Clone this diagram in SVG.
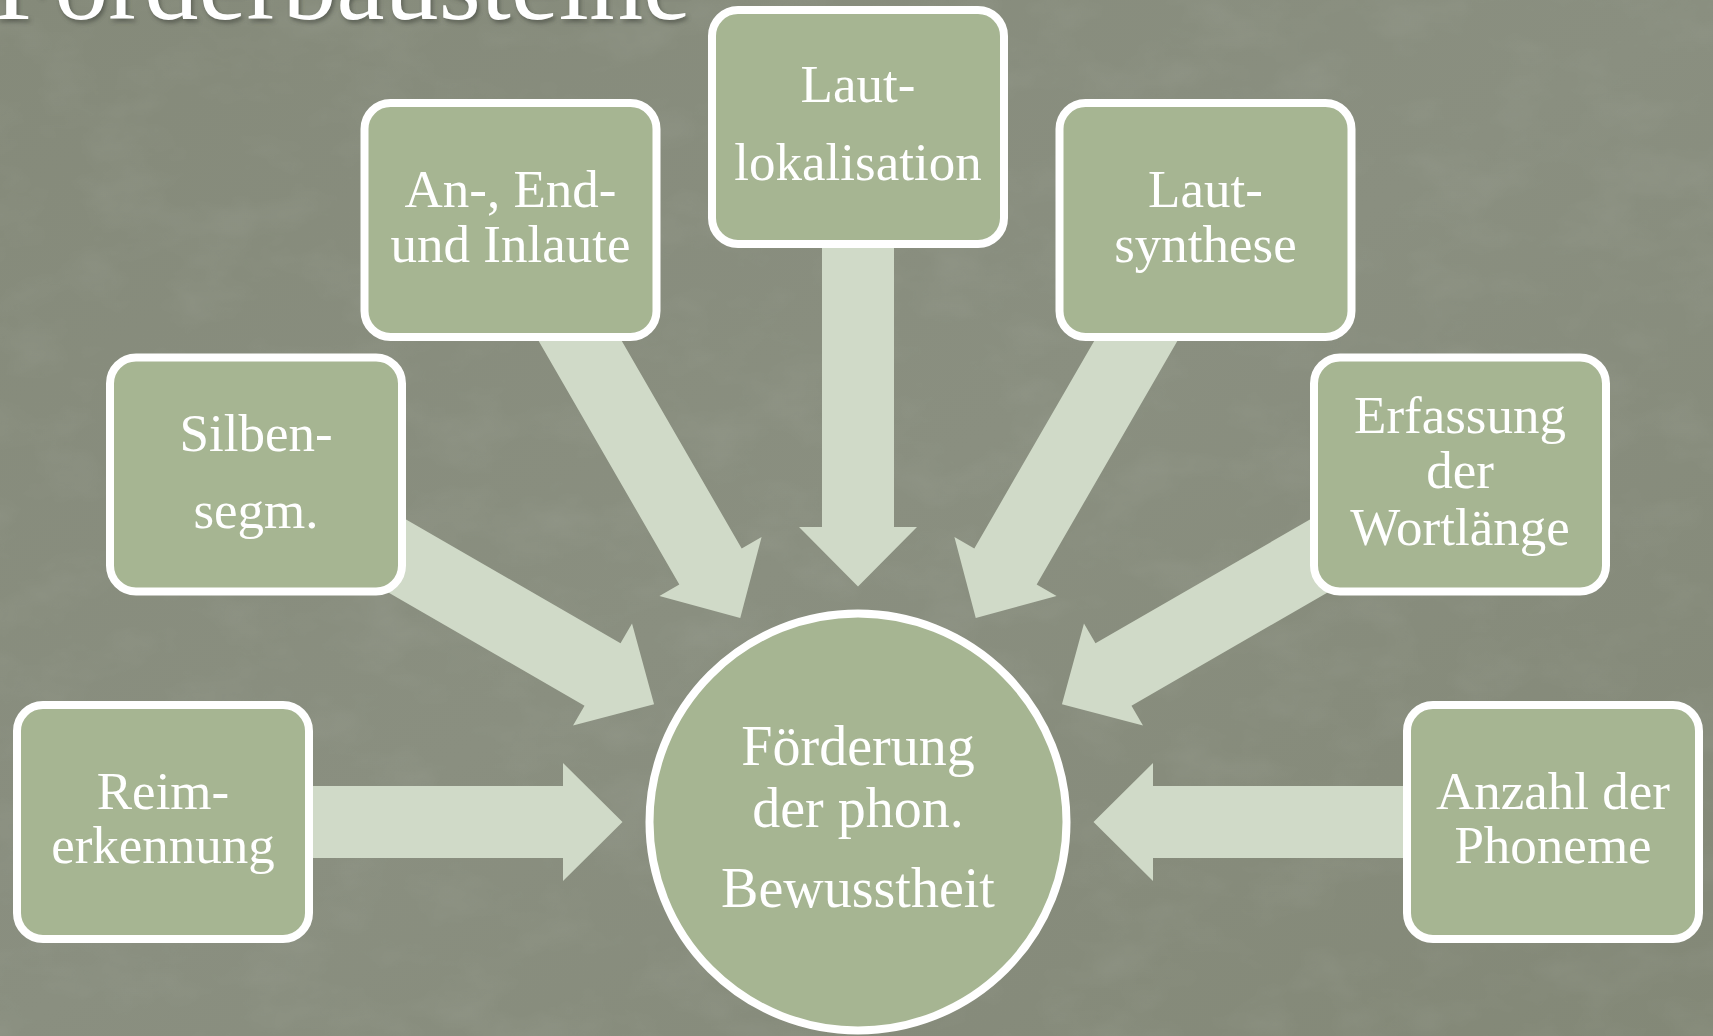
<svg xmlns="http://www.w3.org/2000/svg" width="1713" height="1036" viewBox="0 0 1713 1036">
  <defs>
    <linearGradient id="bg" x1="0" y1="0" x2="1" y2="1">
      <stop offset="0" stop-color="#858a7a"/>
      <stop offset="0.5" stop-color="#8a8f80"/>
      <stop offset="1" stop-color="#838877"/>
    </linearGradient>
    <filter id="grain" x="0" y="0" width="100%" height="100%">
      <feTurbulence type="fractalNoise" baseFrequency="0.012 0.02" numOctaves="4" seed="7" result="n"/>
      <feColorMatrix type="matrix" values="0 0 0 0 0.45  0 0 0 0 0.48  0 0 0 0 0.42  0 0 0 -1.6 0.9" result="m"/>
      <feComposite in="m" in2="SourceGraphic" operator="in"/>
    </filter>
    <filter id="tshadow" x="-5%" y="-50%" width="110%" height="200%">
      <feGaussianBlur stdDeviation="2"/>
    </filter>
    <polygon id="arrow" points="858,586.5 917,527 894,527 894,222 822,222 822,527 799,527"/>
  </defs>
  <style>
    .arr { fill: #d0dac8; }
    .box { fill: #a6b592; stroke: #ffffff; stroke-width: 8; }
    .lbl { font-family: "Liberation Serif", "DejaVu Serif", serif; font-size: 53px; fill: #ffffff; text-anchor: middle; }
    .clbl { font-family: "Liberation Serif", "DejaVu Serif", serif; font-size: 56px; fill: #ffffff; text-anchor: middle; }
    .title { font-family: "Liberation Serif", "DejaVu Serif", serif; font-size: 108px; }
  </style>

  <rect x="0" y="0" width="1713" height="1036" fill="url(#bg)"/>
  <rect x="0" y="0" width="1713" height="1036" fill="#000" opacity="0.18" filter="url(#grain)"/>

  <g id="title">
    <text class="title" x="-4" y="22" textLength="697" lengthAdjust="spacingAndGlyphs" fill="#4a4d44" opacity="0.7" filter="url(#tshadow)">Förderbausteine</text>
    <text class="title" x="-6" y="19" textLength="697" lengthAdjust="spacingAndGlyphs" fill="#ffffff">Förderbausteine</text>
  </g>

  <g id="connectors">
    <use href="#arrow" class="arr" transform="rotate(-90 858 822)"/>
    <use href="#arrow" class="arr" transform="rotate(-60 858 822)"/>
    <use href="#arrow" class="arr" transform="rotate(-30 858 822)"/>
    <use href="#arrow" class="arr"/>
    <use href="#arrow" class="arr" transform="rotate(30 858 822)"/>
    <use href="#arrow" class="arr" transform="rotate(60 858 822)"/>
    <use href="#arrow" class="arr" transform="rotate(90 858 822)"/>
  </g>

  <g id="node-center">
    <circle cx="858" cy="822" r="208.5" class="box"/>
    <text class="clbl" x="858" y="765">Förderung</text>
    <text class="clbl" x="858" y="826.7">der phon.</text>
    <text class="clbl" x="858" y="906.7">Bewusstheit</text>
  </g>

  <g id="node-reim" transform="translate(163 822)">
    <rect x="-146" y="-117" width="292" height="234" rx="26" class="box"/>
    <text class="lbl" x="0" y="-13">Reim-</text>
    <text class="lbl" x="0" y="41">erkennung</text>
  </g>

  <g id="node-silben" transform="translate(256 474.5)">
    <rect x="-146" y="-117" width="292" height="234" rx="26" class="box"/>
    <text class="lbl" x="0" y="-24">Silben-</text>
    <text class="lbl" x="0" y="53">segm.</text>
  </g>

  <g id="node-anlaute" transform="translate(510.5 220)">
    <rect x="-146" y="-117" width="292" height="234" rx="26" class="box"/>
    <text class="lbl" x="0" y="-13">An-, End-</text>
    <text class="lbl" x="0" y="42">und Inlaute</text>
  </g>

  <g id="node-lokalisation" transform="translate(858 127)">
    <rect x="-146" y="-117" width="292" height="234" rx="26" class="box"/>
    <text class="lbl" x="0" y="-25">Laut-</text>
    <text class="lbl" x="0" y="53">lokalisation</text>
  </g>

  <g id="node-synthese" transform="translate(1205.5 220)">
    <rect x="-146" y="-117" width="292" height="234" rx="26" class="box"/>
    <text class="lbl" x="0" y="-13">Laut-</text>
    <text class="lbl" x="0" y="42">synthese</text>
  </g>

  <g id="node-wortlaenge" transform="translate(1460 474.5)">
    <rect x="-146" y="-117" width="292" height="234" rx="26" class="box"/>
    <text class="lbl" x="0" y="-41.5">Erfassung</text>
    <text class="lbl" x="0" y="13.5">der</text>
    <text class="lbl" x="0" y="70.5">Wortlänge</text>
  </g>

  <g id="node-phoneme" transform="translate(1553 822)">
    <rect x="-146" y="-117" width="292" height="234" rx="26" class="box"/>
    <text class="lbl" x="0" y="-13">Anzahl der</text>
    <text class="lbl" x="0" y="41">Phoneme</text>
  </g>
</svg>
